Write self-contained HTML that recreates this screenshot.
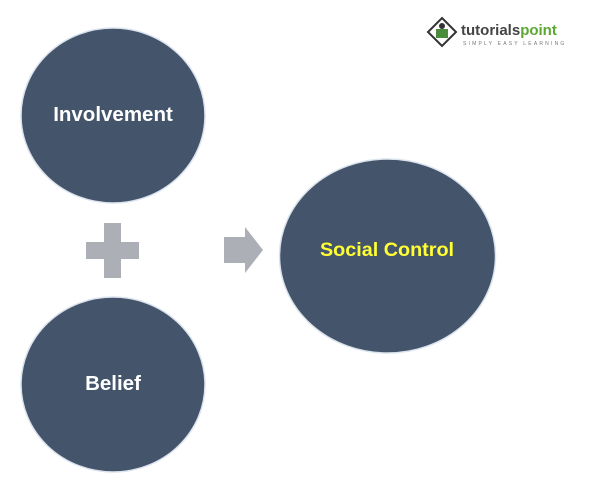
<!DOCTYPE html>
<html><head><meta charset="utf-8"><style>
html,body{margin:0;padding:0;background:#fff;width:600px;height:490px;overflow:hidden}
</style></head><body>
<svg width="600" height="490" viewBox="0 0 600 490" xmlns="http://www.w3.org/2000/svg" font-family="'Liberation Sans',sans-serif">
<rect width="600" height="490" fill="#fff"/>
<g transform="translate(442,32)">
<polygon points="0,-14 14,0 0,14 -14,0" fill="#fff" stroke="#333" stroke-width="2"/>
<rect x="-6" y="-3" width="12" height="9" fill="#4a8c3c"/>
<circle cx="0" cy="-6" r="3" fill="#333"/>
</g>
<text x="461" y="35" font-size="15" font-weight="bold" fill="#444">tutorials<tspan fill="#5aa832">point</tspan></text>
<text x="463" y="45" font-size="5" fill="#777" letter-spacing="2.2">SIMPLY EASY LEARNING</text>
<ellipse cx="113" cy="115.5" rx="92" ry="87.5" fill="#44546a" stroke="#dbe3ee" stroke-width="1.5"/>
<ellipse cx="113" cy="384.5" rx="92" ry="87.5" fill="#44546a" stroke="#dbe3ee" stroke-width="1.5"/>
<ellipse cx="387.5" cy="256" rx="108" ry="97" fill="#44546a" stroke="#dbe3ee" stroke-width="1.5"/>
<text x="113" y="121" text-anchor="middle" font-size="20.5" font-weight="bold" fill="#fff">Involvement</text>
<text x="113" y="390" text-anchor="middle" font-size="20.5" font-weight="bold" fill="#fff">Belief</text>
<text x="387" y="256" text-anchor="middle" font-size="19.8" font-weight="bold" fill="#ffff33">Social Control</text>
<path d="M104,223 H121 V242 H139 V259 H121 V278 H104 V259 H86 V242 H104 Z" fill="#adafb6"/>
<path d="M224,237 H245 V227 L263,250 L245,273 V263 H224 Z" fill="#adafb6"/>
</svg>
</body></html>
